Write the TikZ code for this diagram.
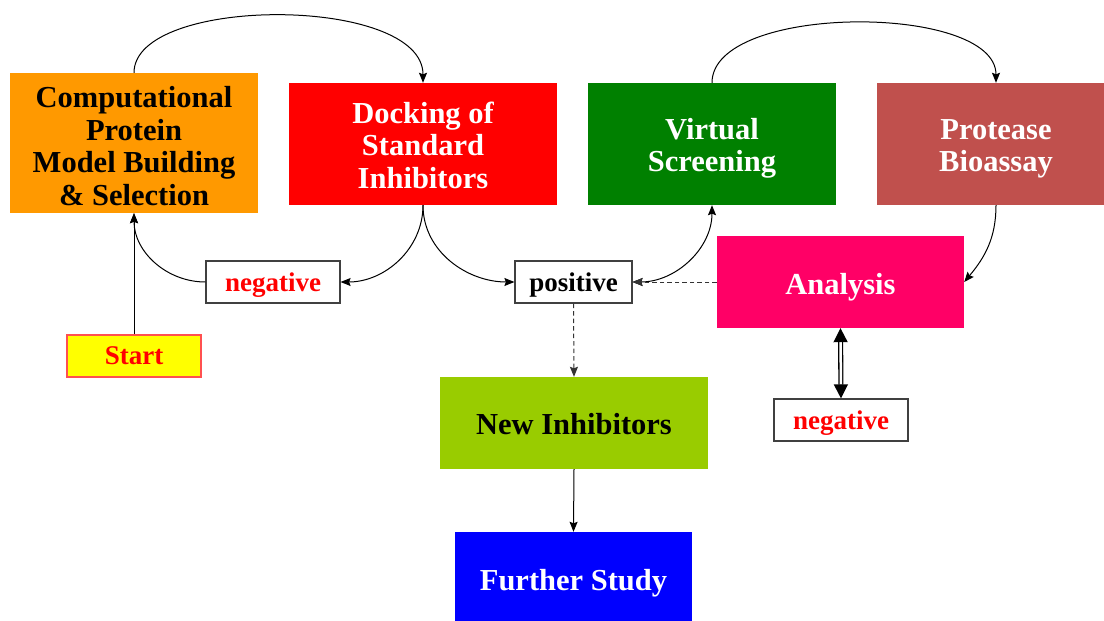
\documentclass[tikz,border=0pt]{standalone}
\usepackage{fontspec}
\setmainfont{Liberation Serif}
\usetikzlibrary{arrows.meta}
\definecolor{corange}{HTML}{FF9900}
\definecolor{cred}{HTML}{FF0000}
\definecolor{cgreen}{HTML}{008000}
\definecolor{cbrown}{HTML}{C0504D}
\definecolor{cpink}{HTML}{FF0066}
\definecolor{clime}{HTML}{99CC00}
\definecolor{cblue}{HTML}{0000FF}
\definecolor{cyel}{HTML}{FFFF00}
\definecolor{cstartborder}{HTML}{FF5050}
\definecolor{cframe}{HTML}{404040}
\newcommand\ctext[2]{\raisebox{-#1}[\height][\depth]{\begin{tabular}{@{}c@{}}#2\end{tabular}}}
\tikzset{
  bigbox/.style={inner sep=0pt, font=\bfseries\fontsize{30.5}{32.5}\selectfont},
  lbl/.style={inner sep=0pt, draw=cframe, line width=1.2pt, fill=white,
              minimum width=134pt, minimum height=42pt, font=\bfseries\fontsize{27}{30}\selectfont},
  tip/.tip={Stealth[length=10pt,width=8pt,inset=1.5pt]},
  conn/.style={line width=1pt, -tip},
  dconn/.style={conn, dashed, dash pattern=on 4.5pt off 3pt, draw=black!80},
}
\begin{document}
\begin{tikzpicture}[x=1pt,y=-1pt]
\useasboundingbox (0,0) rectangle (1104,621);
% boxes
\node[bigbox, fill=corange, text=black, minimum width=248pt, minimum height=140pt] (comp) at (134,143)
  {\ctext{7pt}{Computational\\Protein\\Model Building\\\& Selection}};
\node[bigbox, fill=cred, text=white, minimum width=268pt, minimum height=122pt] (dock) at (423,144)
  {\ctext{5pt}{Docking of\\Standard\\Inhibitors}};
\node[bigbox, fill=cgreen, text=white, minimum width=248pt, minimum height=122pt] (virt) at (712,144)
  {\ctext{5pt}{Virtual\\Screening}};
\node[bigbox, fill=cbrown, text=white, minimum width=238pt, minimum height=122pt] (prot) at (996,144)
  {\ctext{5pt}{Protease\\Bioassay}};
\node[bigbox, fill=cpink, text=white, minimum width=247pt, minimum height=92pt] (an) at (840.5,282)
  {\ctext{6pt}{Analysis}};
\node[bigbox, fill=clime, text=black, minimum width=268pt, minimum height=92pt] (ni) at (574,423)
  {\ctext{5pt}{New Inhibitors}};
\node[bigbox, fill=cblue, text=white, minimum width=237pt, minimum height=96pt] (fs) at (573.5,580)
  {\ctext{4pt}{Further Study}};
% labels
\node[lbl, text=cred] (neg1) at (273,282) {\ctext{3pt}{negative}};
\node[lbl, text=black, minimum width=117pt] (pos) at (573.5,282) {\ctext{3pt}{positive}};
\node[lbl, text=cred] (neg2) at (841,420) {\ctext{3pt}{negative}};
\node[lbl, draw=cstartborder, fill=cyel, text=cred, line width=1.3pt] (start) at (134,356) {\ctext{2pt}{Start}};
% connectors
\draw[conn] (comp.north) .. controls (134,-5) and (423,-5) .. (dock.north);
\draw[conn] (virt.north) .. controls (712,3) and (996,3) .. (prot.north);
\draw[conn] (dock.south) to[out=-90,in=0] (neg1.east);
\draw[conn] (dock.south) to[out=-90,in=180] (pos.west);
\draw[conn] (neg1.west) to[out=180,in=-90] (comp.south);
\draw[conn] (start.north) -- (comp.south);
\draw[conn] (prot.south) to[out=-90,in=50] (an.east);
\draw[conn, tip-tip] (pos.east) to[out=0,in=-90] (virt.south);
\draw[dconn] (an.west) -- (pos.east);
\draw[dconn] (pos.south) -- (ni.north);
\draw[conn] (ni.south) -- (fs.north);
\draw[line width=1.3pt, double, double distance=2.5pt, {Triangle[length=14pt,width=14pt]}-{Triangle[length=14pt,width=14pt]}] (an.south) -- (neg2.north);
\end{tikzpicture}
\end{document}
